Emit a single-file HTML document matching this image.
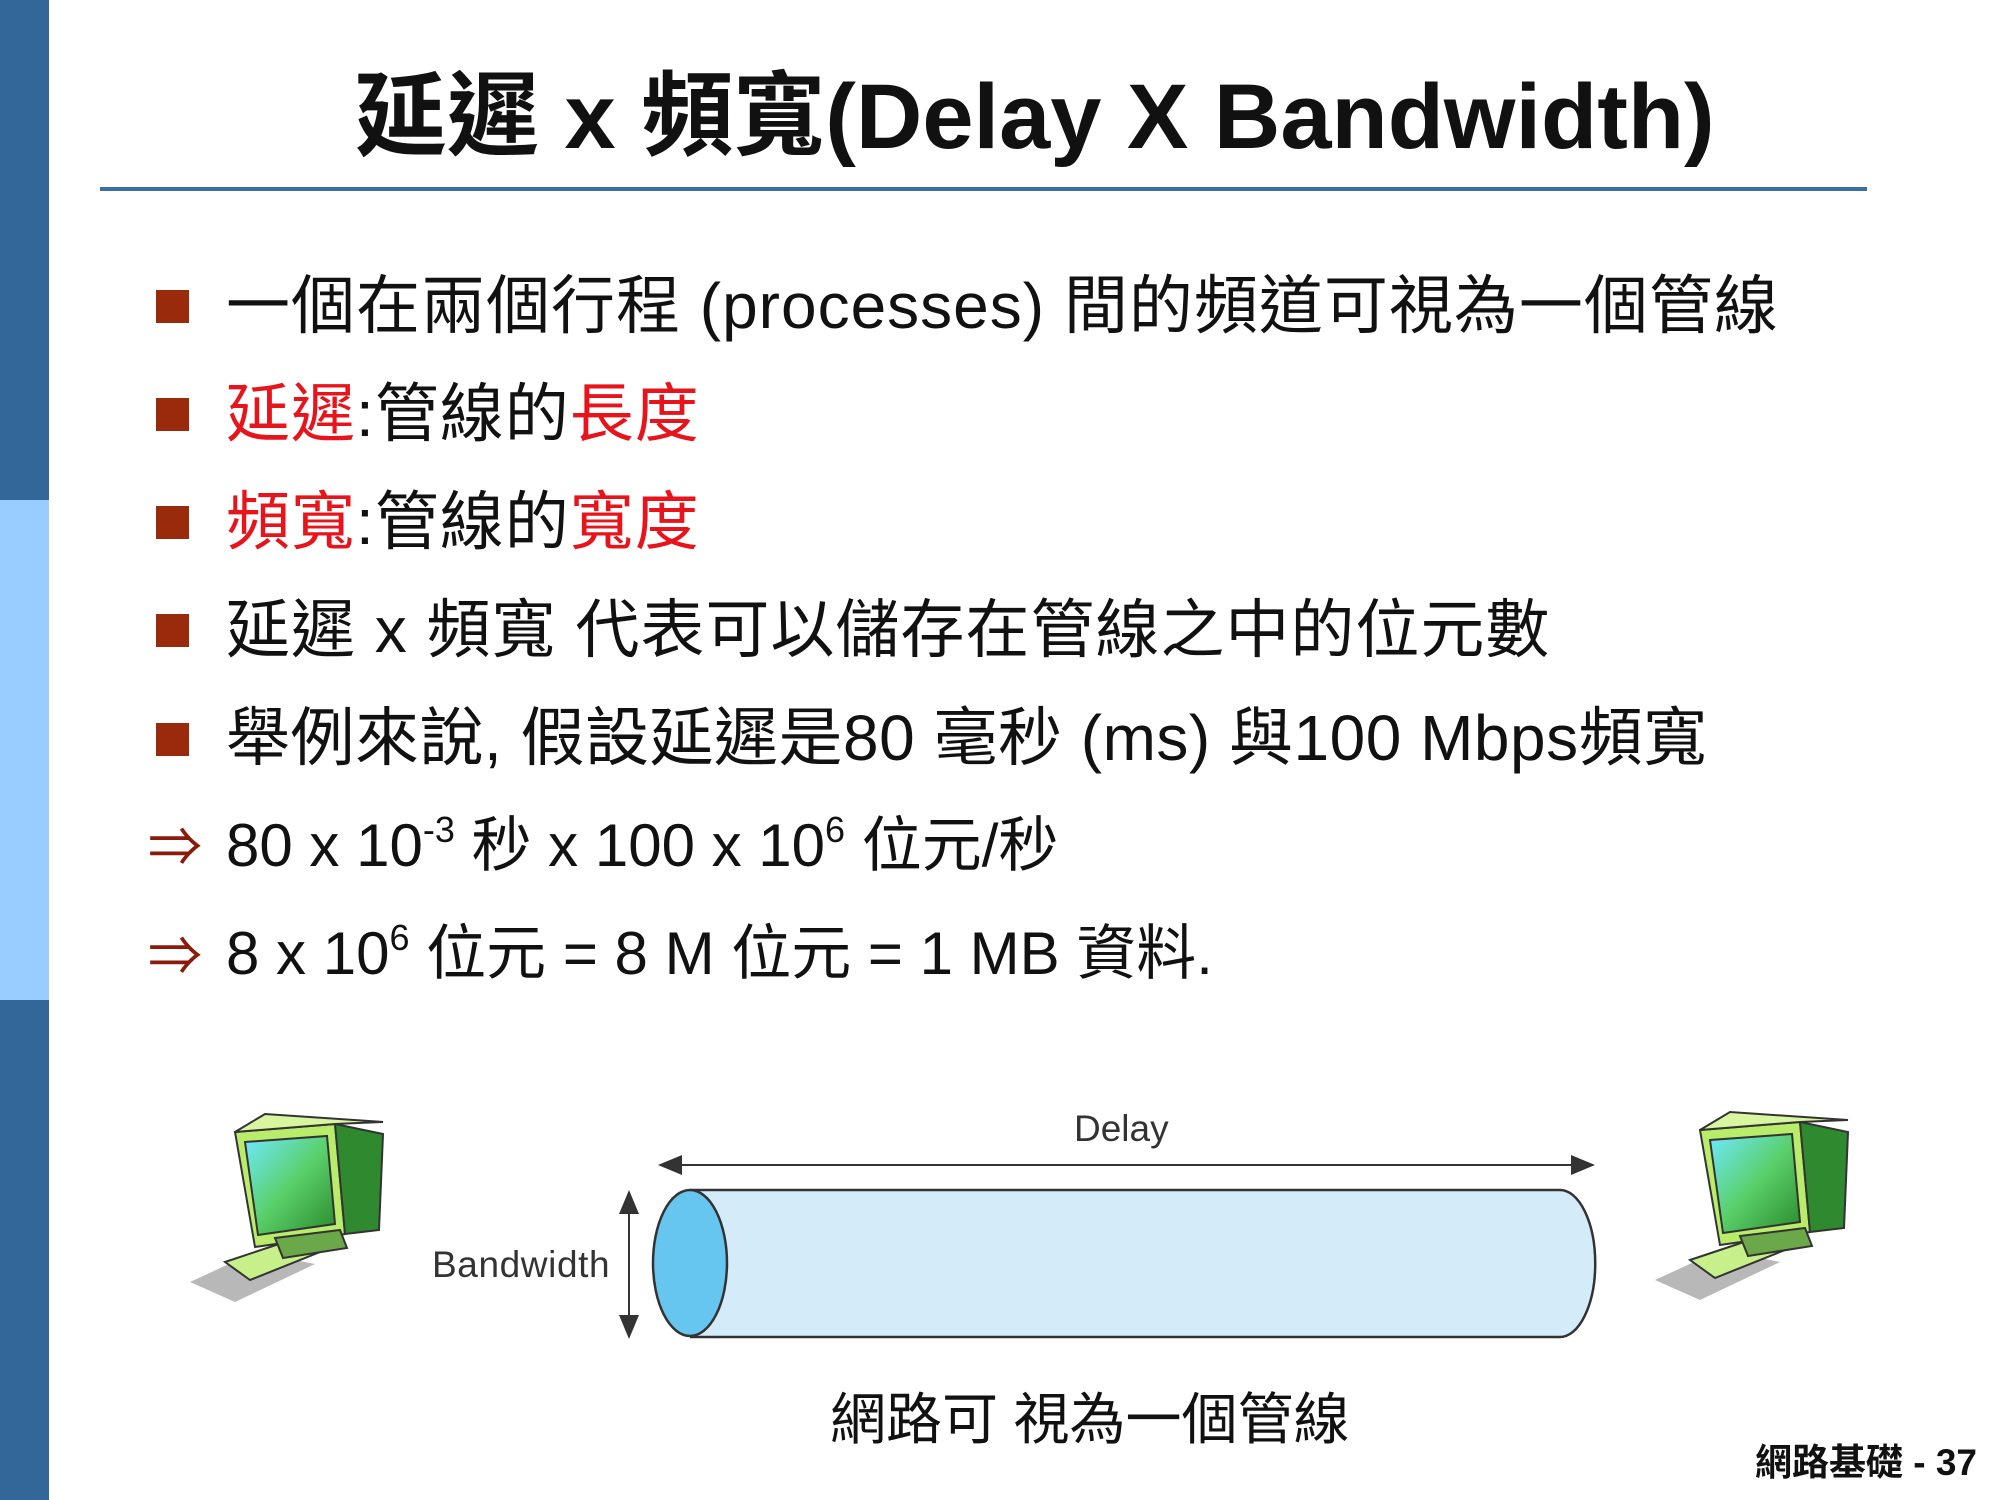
<!DOCTYPE html>
<html><head><meta charset="utf-8"><style>
html,body{margin:0;padding:0;}
body{width:2000px;height:1500px;position:relative;background:#fff;overflow:hidden;font-family:"Liberation Sans","Noto Sans CJK TC",sans-serif;}
.bar{position:absolute;left:0;width:49px;}
.t{position:absolute;white-space:nowrap;}
.b{position:absolute;left:156px;width:33px;height:33px;background:#9a2a0c;}
.r{color:#e8141b;}
.line{position:absolute;color:#111;font-size:64px;left:226px;white-space:nowrap;letter-spacing:1px;}
.arr{position:absolute;left:148px;font-size:54px;color:#8a1a0a;}
sup{font-size:36px;vertical-align:24px;line-height:0;}
</style></head><body>
<div class="bar" style="top:0;height:500px;background:#336699"></div>
<div class="bar" style="top:500px;height:500px;background:#99ccff"></div>
<div class="bar" style="top:1000px;height:500px;background:#336699"></div>

<div class="t" style="left:355px;top:42px;font-size:92px;font-weight:bold;color:#111;">延遲 x 頻寬(Delay X Bandwidth)</div>
<div style="position:absolute;left:100px;top:187px;width:1767px;height:4px;background:#3a6ea5"></div>

<div class="b" style="top:290px"></div>
<div class="line" style="top:255px">一個在兩個行程 (processes) 間的頻道可視為一個管線</div>
<div class="b" style="top:398px"></div>
<div class="line" style="top:363px"><span class="r">延遲</span>:管線的<span class="r">長度</span></div>
<div class="b" style="top:506px"></div>
<div class="line" style="top:471px"><span class="r">頻寬</span>:管線的<span class="r">寬度</span></div>
<div class="b" style="top:614px"></div>
<div class="line" style="top:579px">延遲 x 頻寬 代表可以儲存在管線之中的位元數</div>
<div class="b" style="top:723px"></div>
<div class="line" style="top:687px;letter-spacing:0.5px">舉例來說, 假設延遲是80 毫秒 (ms) 與100 Mbps頻寬</div>
<div class="arr" style="top:803px">⇒</div>
<div class="line" style="top:797px;font-size:60px;letter-spacing:0">80 x 10<sup>-3</sup> 秒 x 100 x 10<sup>6</sup> 位元/秒</div>
<div class="arr" style="top:912px">⇒</div>
<div class="line" style="top:905px;font-size:60px;letter-spacing:0">8 x 10<sup>6</sup> 位元 = 8 M 位元 = 1 MB 資料.</div>

<svg style="position:absolute;left:0;top:0" width="2000" height="1500">
<defs>
<linearGradient id="sc" x1="0" y1="0" x2="1" y2="1"><stop offset="0" stop-color="#6fe8ff"/><stop offset="0.5" stop-color="#5ad06a"/><stop offset="1" stop-color="#2a8a2a"/></linearGradient>
<g id="pc">
<polygon points="-5,170 60,140 120,152 40,190" fill="#888" opacity="0.6"/>
<polygon points="30,150 105,125 130,138 55,168" fill="#c8f08a" stroke="#333" stroke-width="2"/>
<polygon points="40,20 140,12 150,122 60,135" fill="#b8ec6a" stroke="#333" stroke-width="2"/>
<polygon points="50,30 132,24 140,112 63,123" fill="url(#sc)" stroke="#333" stroke-width="2"/>
<polygon points="140,12 188,22 184,118 150,122" fill="#2f8a2f" stroke="#333" stroke-width="2"/>
<polygon points="40,20 70,2 188,10 140,12" fill="#d8f6a0" stroke="#333" stroke-width="2"/>
<polygon points="80,126 145,118 152,136 88,146" fill="#6aa84a" stroke="#333" stroke-width="2"/>
</g>
<marker id="ah" markerWidth="12" markerHeight="10" refX="11" refY="5" orient="auto"><path d="M0,0 L12,5 L0,10 z" fill="#333"/></marker>
</defs>
<use href="#pc" x="195" y="1112"/>
<use href="#pc" x="1660" y="1110"/>
<path d="M690,1190 L1560,1190 A35,73 0 0 1 1560,1337 L690,1337" fill="#d4ecfa" stroke="#333" stroke-width="2.5"/>
<ellipse cx="690" cy="1263" rx="37" ry="73" fill="#66c6f0" stroke="#333" stroke-width="2.5"/>
<line x1="1450" y1="1165" x2="660" y2="1165" stroke="#333" stroke-width="2" marker-end="url(#ah)"/>
<line x1="1000" y1="1165" x2="1593" y2="1165" stroke="#333" stroke-width="2" marker-end="url(#ah)"/>
<line x1="629" y1="1263" x2="629" y2="1192" stroke="#333" stroke-width="2" marker-end="url(#ah)"/>
<line x1="629" y1="1263" x2="629" y2="1337" stroke="#333" stroke-width="2" marker-end="url(#ah)"/>
</svg>
<div class="t" style="left:1074px;top:1108px;font-size:37px;color:#333;">Delay</div>
<div class="t" style="left:432px;top:1244px;font-size:37px;color:#333;letter-spacing:0.6px;">Bandwidth</div>
<div class="t" style="left:830px;top:1375px;font-size:56px;color:#111;">網路可 視為一個管線</div>
<div class="t" style="right:23px;top:1432px;font-size:37px;font-weight:bold;color:#111;">網路基礎 - 37</div>
</body></html>
